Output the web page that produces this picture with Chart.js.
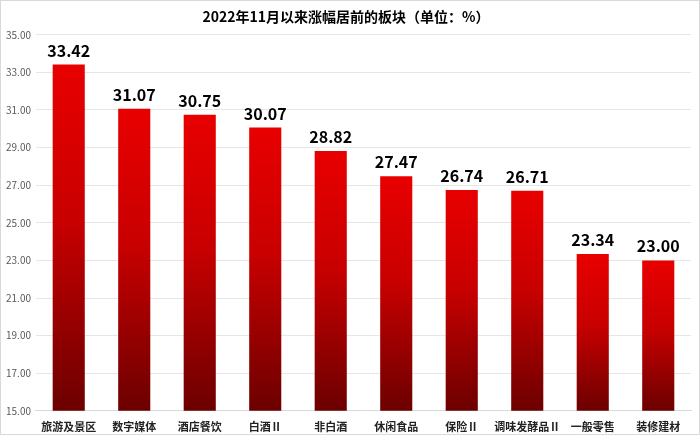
<!DOCTYPE html>
<html>
<head>
<meta charset="utf-8">
<script src="https://cdn.jsdelivr.net/npm/chart.js@4"></script>
<style>
  html, body { margin: 0; padding: 0; background: #fff; }
  #wrap { width: 698px; height: 433px; border: 1px solid #d9d9d9; }
</style>
</head>
<body>
<div id="wrap"><canvas id="chart" width="698" height="433"></canvas></div>
<script>
// ── Datos ──
const sectores = ['旅游及景区', '数字媒体', '酒店餐饮', '白酒Ⅱ', '非白酒', '休闲食品', '保险Ⅱ', '调味发酵品Ⅱ', '一般零售', '装修建材'];
const subida   = [33.42, 31.07, 30.75, 30.07, 28.82, 27.47, 26.74, 26.71, 23.34, 23.00];
const yTicks   = [15, 17, 19, 21, 23, 25, 27, 29, 31, 33, 35];

const FONT = '"Microsoft YaHei", "Noto Sans CJK SC", sans-serif';

// degradado por barra: rojo arriba → rojo oscuro abajo
function gradRojo(ctx) {
  const c = ctx.chart;
  const area = c.chartArea;
  const y = c.scales.y;
  if (!area || !y || ctx.dataIndex === undefined) return '#cc0000';
  const top = y.getPixelForValue(subida[ctx.dataIndex]);
  const g = c.ctx.createLinearGradient(0, top, 0, area.bottom);
  g.addColorStop(0, '#e80000');
  g.addColorStop(0.45, '#c80000');
  g.addColorStop(1, '#6c0000');
  return g;
}

// etiquetas encima de cada barra
const etiquetas = {
  id: 'etiquetas',
  afterDatasetsDraw(chart) {
    const { ctx } = chart;
    const meta = chart.getDatasetMeta(0);
    ctx.save();
    ctx.font = 'bold 16px ' + FONT;
    ctx.fillStyle = '#000';
    ctx.textAlign = 'center';
    ctx.textBaseline = 'bottom';
    meta.data.forEach((bar, i) => {
      ctx.fillText(subida[i].toFixed(2), bar.x, bar.y - 6);
    });
    ctx.restore();
  }
};

new Chart(document.getElementById('chart'), {
  type: 'bar',
  data: {
    labels: sectores,
    datasets: [{
      data: subida,
      backgroundColor: gradRojo,
      barPercentage: 0.49,
      categoryPercentage: 1
    }]
  },
  options: {
    responsive: false,
    animation: false,
    layout: { padding: { left: 0, right: 8, top: 3, bottom: 0 } },
    plugins: {
      legend: { display: false },
      tooltip: { enabled: false },
      title: {
        display: true,
        text: '2022年11月以来涨幅居前的板块（单位：%）',
        color: '#000',
        font: { family: FONT, size: 14, weight: 'bold' },
        padding: { top: 4, bottom: 10 }
      }
    },
    scales: {
      x: {
        grid: { display: false },
        border: { color: '#d9d9d9' },
        ticks: { color: '#222', padding: 1, font: { family: FONT, size: 11, weight: 'bold' }, maxRotation: 0, autoSkip: false }
      },
      y: {
        min: 15, max: 35,
        afterBuildTicks: axis => { axis.ticks = yTicks.map(v => ({ value: v })); },
        grid: { color: '#e6e6e6', drawTicks: false },
        border: { display: false },
        ticks: { color: '#595959', padding: 5, font: { family: FONT, size: 10 }, callback: v => v.toFixed(2) }
      }
    }
  },
  plugins: [etiquetas]
});
</script>
</body>
</html>
